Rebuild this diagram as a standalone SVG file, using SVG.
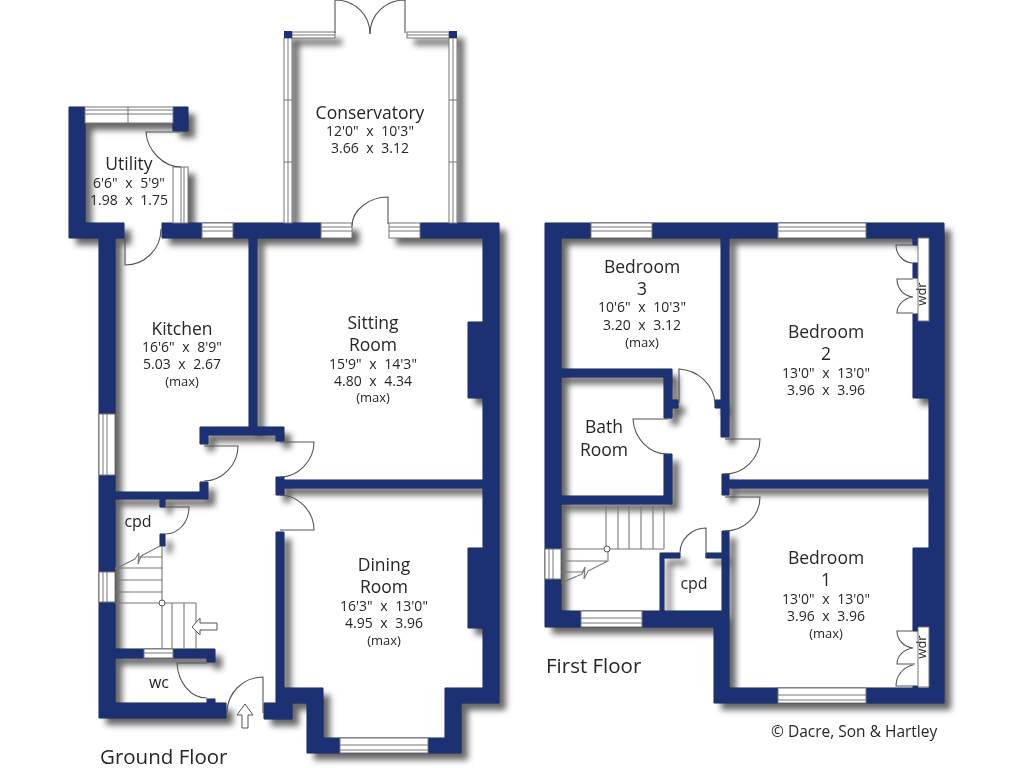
<svg xmlns="http://www.w3.org/2000/svg" xmlns:xlink="http://www.w3.org/1999/xlink" width="1024" height="768" viewBox="0 0 1024 768">
<style>
text{font-family:"Open Sans","Noto Sans","Liberation Sans",sans-serif;fill:#262626;text-anchor:middle}
.n{font-size:17.5px}
.d{font-size:14px;word-spacing:4px}
.m{font-size:13px}
.s{font-size:16px}
.f{font-size:20.5px;text-anchor:start}
.c{font-size:15.5px;text-anchor:start}
.wl{fill:#1c3174}
.edge{fill:#10204f;stroke:#10204f;stroke-width:1}
.sh{fill:#000;opacity:.6}
.g{fill:#fff;stroke:#777;stroke-width:1}
.l{fill:none;stroke:#777;stroke-width:1}
.dr{fill:none;stroke:#555;stroke-width:1.1}
.st{fill:none;stroke:#777;stroke-width:1.1}
.a{fill:#fff;stroke:#555;stroke-width:1}
</style>
<defs>
<filter id="blur" x="-10%" y="-10%" width="120%" height="120%"><feGaussianBlur stdDeviation="3"/></filter>
<path id="w1" d="M69 107H85V223H124V238H115V703H226V718H99V238H69Z M173 107H188V131H173Z M162 223H321V238H162Z M420 223H499V703H461V753H307V703H292V719H264V703H276V532H284V688H323V738H445V688H483V238H420Z M468 322H483V398H468Z M468 548H483V628H468Z M276 477H284V480H483V488H284V495H276Z M249 238H257V427H284V441H276V435H208V444H200V427H249Z M115 492H200V482H208V499H165V507H160V499H115Z M160 534H165V546H160Z M115 649H215V662H207V658H115Z M207 699H215V703H207Z"/>
<path id="w2" d="M545 223H944V703H714V627H545Z M561 238V611H729V688H929V238Z M721 238H729V437H721V408H715V400H721Z M561 369H672V400H678V408H672V418H664V377H561Z M664 454H672V504H561V496H664Z M722 474H729V480H929V488H729V495H722Z M722 531H729V611H722Z M660 553H680V558H664V611H660Z M706 553H722V558H706Z M913 314H929V398H913Z M913 548H929V627H913Z M913 238H918V245H913Z M913 263H918V278H913Z M913 627H918V631H913Z M913 686H918V688H913Z"/>
<path id="gl" d="M85 107H173V123H85Z M173 167H188V223H173Z M284 31H292V223H284Z M449 31H457V223H449Z M292 32H335V38H292Z M407 32H449V38H407Z M321 223H352V238H321Z M389 223H420V238H389Z"/>
</defs>

<g id="shadows" filter="url(#blur)" transform="translate(7 7)">
<use href="#w1" class="sh"/><use href="#gl" class="sh"/><use href="#w2" class="sh"/>
</g>

<g id="ground-floor">
<use href="#w1" class="edge"/><use href="#w1" class="wl"/>
<g id="ground-windows">
<rect class="g" x="85" y="107" width="88" height="16"/><path class="l" d="M85 110H173M85 114H173M128 107V123"/>
<rect class="g" x="173" y="167" width="15" height="56"/><path class="l" d="M181 167V223M184 167V223"/>
<rect class="g" x="284" y="38" width="8" height="185"/><path class="l" d="M288 38V223M284 100H292M284 162H292"/>
<rect class="g" x="449" y="38" width="8" height="185"/><path class="l" d="M453 38V223M449 100H457M449 162H457"/>
<rect class="g" x="292" y="32" width="43" height="6"/><path class="l" d="M292 35H335"/>
<rect class="g" x="407" y="32" width="42" height="6"/><path class="l" d="M407 35H449"/>
<rect x="284" y="31" width="8" height="7" class="wl"/><rect x="449" y="31" width="8" height="7" class="wl"/>
<rect class="g" x="202" y="223" width="31" height="15"/><path class="l" d="M202 227H233M202 231H233"/>
<rect class="g" x="321" y="223" width="31" height="15"/><path class="l" d="M321 227H352M321 231H352"/>
<rect class="g" x="389" y="223" width="31" height="15"/><path class="l" d="M389 227H420M389 231H420"/>
<rect class="g" x="99" y="414" width="16" height="61"/><path class="l" d="M103 414V475M107 414V475"/>
<rect class="g" x="99" y="572" width="16" height="30"/><path class="l" d="M103 572V602M107 572V602"/>
<rect class="g" x="144" y="649" width="29" height="9"/><path class="l" d="M144 653H173"/>
<rect class="g" x="340" y="738" width="88" height="15"/><path class="l" d="M340 745H428M340 750H428"/>
</g>
<g id="ground-doors">
<path class="dr" d="M335 33V0C355 0 370 15 370 34"/>
<path class="dr" d="M405 33V0C385 0 370 15 370 34"/>
<path class="dr" d="M388 224V197C369 197 352 210 352 226"/>
<path class="dr" d="M180 132H146C147 150 163 167 181 167"/>
<path class="dr" d="M125 238V265C145 265 161 249 161 229"/>
<path class="dr" d="M204 446H238C238 465 222 481 204 481"/>
<path class="dr" d="M280 442H314C314 461 298 477 280 477"/>
<path class="dr" d="M280 530H314C314 511 298 495 280 495"/>
<path class="dr" d="M165 507H189C189 523 178 534 165 534"/>
<path class="dr" d="M207 663H177C178 682 190 698 207 698"/>
<path class="dr" d="M263 713V677C243 677 227 693 227 713"/>
</g>
<g id="ground-stairs">
<path class="st" d="M162 546V649M115 569L135 559M141 556L160 546M135 559L139 553L138 564L141 556M138 557H162M115 568H162M115 580H162M115 592H162M115 603H196V649M172 603V649M184 603V649"/>
<circle cx="162" cy="603" r="3" fill="#fff" stroke="#555"/>
<path class="a" d="M192 627L200 618V623H217V630H200V635Z"/>
<path class="a" d="M245 704L253 715H248V728H242V715H237Z"/>
</g>
<g id="ground-labels">
<text class="n" x="129" y="170">Utility</text>
<text class="d" x="129" y="188">6'6" x 5'9"</text>
<text class="d" x="129" y="205">1.98 x 1.75</text>
<text class="n" x="370" y="119">Conservatory</text>
<text class="d" x="370" y="136">12'0" x 10'3"</text>
<text class="d" x="370" y="153">3.66 x 3.12</text>
<text class="n" x="182" y="335">Kitchen</text>
<text class="d" x="182" y="352">16'6" x 8'9"</text>
<text class="d" x="182" y="369">5.03 x 2.67</text>
<text class="m" x="182" y="386">(max)</text>
<text class="n" x="373" y="329">Sitting</text>
<text class="n" x="373" y="351">Room</text>
<text class="d" x="373" y="369">15'9" x 14'3"</text>
<text class="d" x="373" y="386">4.80 x 4.34</text>
<text class="m" x="373" y="402">(max)</text>
<text class="n" x="384" y="571">Dining</text>
<text class="n" x="384" y="593">Room</text>
<text class="d" x="384" y="611">16'3" x 13'0"</text>
<text class="d" x="384" y="628">4.95 x 3.96</text>
<text class="m" x="384" y="645">(max)</text>
<text class="s" x="138" y="527">cpd</text>
<text class="s" x="159" y="688">wc</text>
<text class="f" x="100" y="764">Ground Floor</text>
</g>
</g>

<g id="first-floor">
<use href="#w2" class="edge"/><use href="#w2" class="wl"/>
<g id="first-windows">
<rect class="g" x="591" y="223" width="61" height="15"/><path class="l" d="M591 227H652M591 231H652"/>
<rect class="g" x="778" y="223" width="88" height="15"/><path class="l" d="M778 227H866M778 231H866"/>
<rect class="g" x="545" y="549" width="16" height="30"/><path class="l" d="M549 549V579M553 549V579"/>
<rect class="g" x="581" y="611" width="61" height="16"/><path class="l" d="M581 618H642M581 623H642"/>
<rect class="g" x="778" y="688" width="88" height="15"/><path class="l" d="M778 695H866M778 700H866"/>
</g>
<g id="wardrobes">
<path d="M918 238H929V321H918Z M918 627H929V687H918Z" fill="#fff" stroke="#777" stroke-width="1"/>
<path class="dr" d="M913 245H896C896 255 904 263 913 263"/>
<path class="dr" d="M913 279H897C897 289 904 296 913 297C904 298 897 305 897 313H913"/>
<path class="dr" d="M913 631H897C897 640 904 647 913 648C904 649 897 656 897 664H915"/>
<path class="dr" d="M913 665C903 667 896 676 896 686H913"/>
<text class="m" x="0" y="0" transform="translate(926 294) rotate(-90)">wdr</text>
<text class="m" x="0" y="0" transform="translate(926 647) rotate(-90)">wdr</text>
</g>
<g id="first-doors">
<path class="dr" d="M679 403V369C698 370 714 385 715 403"/>
<path class="dr" d="M668 419H633C634 438 649 454 667 454"/>
<path class="dr" d="M725 439H760C760 458 744 474 725 474"/>
<path class="dr" d="M725 497H760C760 516 744 531 725 531"/>
<path class="dr" d="M706 558V528C692 528 680 539 680 553"/>
</g>
<g id="first-stairs">
<path class="st" d="M561 549H664M606 504V549M618 504V549M629 504V549M641 504V549M653 504V549M664 504V549M561 561H607M561 572H585M608 549V561L588 571M582 574L561 583M582 574L585 567L584 579L588 571"/>
<circle cx="607" cy="549" r="3" fill="#fff" stroke="#555"/>
</g>
<g id="first-labels">
<text class="n" x="642" y="273">Bedroom</text>
<text class="n" x="642" y="295">3</text>
<text class="d" x="642" y="312">10'6" x 10'3"</text>
<text class="d" x="642" y="330">3.20 x 3.12</text>
<text class="m" x="642" y="347">(max)</text>
<text class="n" x="826" y="338">Bedroom</text>
<text class="n" x="826" y="360">2</text>
<text class="d" x="826" y="378">13'0" x 13'0"</text>
<text class="d" x="826" y="395">3.96 x 3.96</text>
<text class="n" x="826" y="564">Bedroom</text>
<text class="n" x="826" y="586">1</text>
<text class="d" x="826" y="604">13'0" x 13'0"</text>
<text class="d" x="826" y="621">3.96 x 3.96</text>
<text class="m" x="826" y="638">(max)</text>
<text class="n" x="604" y="433">Bath</text>
<text class="n" x="604" y="456">Room</text>
<text class="s" x="694" y="589">cpd</text>
<text class="f" x="546" y="673">First Floor</text>
<text class="c" x="771" y="737">© Dacre, Son &amp; Hartley</text>
</g>
</g>
</svg>
